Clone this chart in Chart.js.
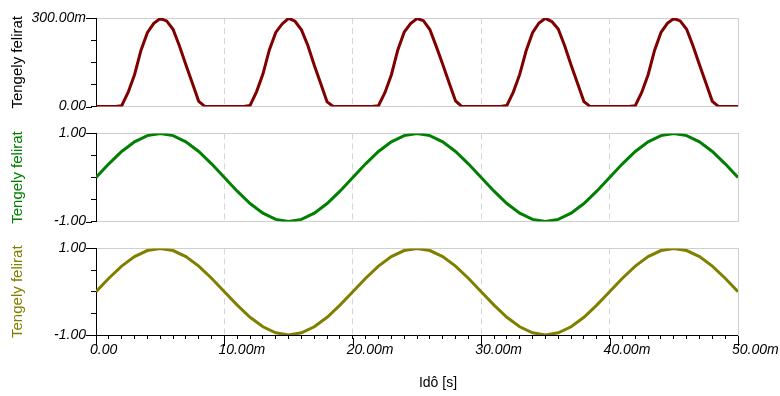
<!DOCTYPE html>
<html>
<head>
<meta charset="utf-8">
<script src="https://cdn.jsdelivr.net/npm/chart.js@4.4.1/dist/chart.umd.min.js"></script>
<style>
  html, body { margin: 0; padding: 0; background: #fff; }
  #wrap { position: relative; width: 780px; height: 396px; }
  canvas { position: absolute; left: 0; }
</style>
</head>
<body>
<div id="wrap">
  <canvas id="c1" width="780" height="120" style="top:0px"></canvas>
  <canvas id="c2" width="780" height="115" style="top:120px"></canvas>
  <canvas id="c3" width="780" height="161" style="top:235px"></canvas>
</div>
<script>
// time in ms (axis shows "10.00m" = 10 ms)
const pulseTime = [
  0, 0.5, 1, 1.5, 2, 2.5, 3, 3.5, 4, 4.5, 5, 5.5, 6, 6.5, 7, 7.5, 8, 8.5, 9, 9.5,
  10, 10.5, 11, 11.5, 12, 12.5, 13, 13.5, 14, 14.5, 15, 15.5, 16, 16.5, 17, 17.5, 18, 18.5, 19, 19.5,
  20, 20.5, 21, 21.5, 22, 22.5, 23, 23.5, 24, 24.5, 25, 25.5, 26, 26.5, 27, 27.5, 28, 28.5, 29, 29.5,
  30, 30.5, 31, 31.5, 32, 32.5, 33, 33.5, 34, 34.5, 35, 35.5, 36, 36.5, 37, 37.5, 38, 38.5, 39, 39.5,
  40, 40.5, 41, 41.5, 42, 42.5, 43, 43.5, 44, 44.5, 45, 45.5, 46, 46.5, 47, 47.5, 48, 48.5, 49, 49.5,
  50
];
// top trace, in m-units (300 = 300.00m)
const pulseVal = [
  0, 0, 0, 0, 3, 48, 108, 190, 250, 282, 298, 290, 262, 205, 142, 80, 18, 0, 0, 0,
  0, 0, 0, 0, 4, 50, 110, 192, 251, 280, 299, 289, 260, 207, 140, 78, 16, 0, 0, 0,
  0, 0, 0, 0, 3, 47, 107, 191, 252, 281, 298, 291, 261, 204, 143, 81, 19, 0, 0, 0,
  0, 0, 0, 0, 4, 49, 109, 189, 250, 283, 299, 288, 263, 206, 141, 79, 17, 0, 0, 0,
  0, 0, 0, 0, 3, 48, 108, 190, 251, 282, 298, 290, 262, 205, 142, 80, 18, 0, 0, 0,
  0
];
const sineTime = [
  0, 1, 2, 3, 4, 5, 6, 7, 8, 9, 10, 11, 12, 13, 14, 15, 16, 17, 18, 19, 20,
  21, 22, 23, 24, 25, 26, 27, 28, 29, 30, 31, 32, 33, 34, 35, 36, 37, 38, 39, 40,
  41, 42, 43, 44, 45, 46, 47, 48, 49, 50
];
const greenVal = [
  0, 0.31, 0.59, 0.81, 0.95, 1.00, 0.95, 0.81, 0.59, 0.31, 0.00,
  -0.31, -0.59, -0.81, -0.95, -1.00, -0.95, -0.81, -0.59, -0.31, 0.00,
  0.31, 0.59, 0.81, 0.95, 1.00, 0.95, 0.81, 0.59, 0.31, 0.00,
  -0.31, -0.59, -0.81, -0.95, -1.00, -0.95, -0.81, -0.59, -0.31, 0.00,
  0.31, 0.59, 0.81, 0.95, 1.00, 0.95, 0.81, 0.59, 0.31, 0.00
];
const oliveVal = [
  0, 0.31, 0.59, 0.81, 0.95, 1.00, 0.95, 0.81, 0.59, 0.31, 0.00,
  -0.31, -0.59, -0.81, -0.95, -1.00, -0.95, -0.81, -0.59, -0.31, 0.00,
  0.31, 0.59, 0.81, 0.95, 1.00, 0.95, 0.81, 0.59, 0.31, 0.00,
  -0.31, -0.59, -0.81, -0.95, -1.00, -0.95, -0.81, -0.59, -0.31, 0.00,
  0.31, 0.59, 0.81, 0.95, 1.00, 0.95, 0.81, 0.59, 0.31, 0.00
];
const xGridAt = [10, 20, 30, 40];
const yTitle = 'Tengely felirat';
const xTitle = 'Idô [s]';

const FONT = "'Liberation Sans', Arial, sans-serif";
const BOX_GRAY = '#cfcfcf';
const DASH_GRAY = '#d6d6d6';

function xLabel(v) {
  if (v % 10 !== 0) return '';
  return v === 0 ? '0.00' : v.toFixed(2) + 'm';
}

// longer tick marks for labelled values, plus the x title
const majorTicks = {
  id: 'majorTicks',
  afterDraw(chart, args, opts) {
    const ctx = chart.ctx;
    const y = chart.scales.y;
    ctx.save();
    ctx.strokeStyle = '#000';
    ctx.lineWidth = 1;
    ctx.beginPath();
    [y.min, y.max].forEach(v => {
      const p = Math.round(y.getPixelForValue(v)) + 0.5;
      ctx.moveTo(y.right - 10, p);
      ctx.lineTo(y.right - 4, p);
    });
    if (opts.bottom) {
      const x = chart.scales.x;
      x.ticks.forEach(t => {
        if (t.value % 10 !== 0) return;
        const p = Math.round(x.getPixelForValue(t.value)) + 0.5;
        ctx.moveTo(p, x.top + 3);
        ctx.lineTo(p, x.top + 11);
      });
    }
    ctx.stroke();
    if (opts.bottom) {
      const x = chart.scales.x;
      ctx.fillStyle = '#000';
      ctx.font = '14px ' + FONT;
      ctx.textAlign = 'center';
      ctx.textBaseline = 'middle';
      ctx.fillText(xTitle, (x.left + x.right) / 2 + 21, x.top + 48);
    }
    ctx.restore();
  }
};

function makePanel(id, times, values, color, yMin, yMax, step, minLabel, maxLabel, titleColor, pad, bottom) {
  return new Chart(document.getElementById(id), {
    type: 'line',
    data: {
      datasets: [{
        data: times.map((t, i) => ({ x: t, y: values[i] })),
        borderColor: color,
        borderWidth: 3,
        pointRadius: 0,
        tension: 0,
        fill: false
      }]
    },
    plugins: [majorTicks],
    options: {
      responsive: false,
      animation: false,
      events: [],
      layout: { padding: { top: pad[0], bottom: pad[1], left: 0, right: 42 } },
      plugins: {
        legend: { display: false },
        tooltip: { enabled: false },
        majorTicks: { bottom: bottom }
      },
      scales: {
        x: {
          type: 'linear',
          position: 'bottom',
          min: 0,
          max: 50,
          afterFit: s => {
            s.height = bottom ? 61 : 0;
            s.paddingLeft = 0;
            s.paddingRight = 0;
          },
          border: { color: bottom ? '#000' : BOX_GRAY, dash: [6, 4] },
          grid: {
            drawOnChartArea: true,
            drawTicks: bottom,
            tickLength: 4,
            tickColor: '#000',
            color: c => (c.tick && xGridAt.includes(c.tick.value)) ? DASH_GRAY : 'rgba(0,0,0,0)'
          },
          ticks: {
            display: bottom,
            stepSize: bottom ? 1 : 10,
            autoSkip: false,
            maxRotation: 0,
            align: 'start',
            labelOffset: -6,
            padding: 3,
            color: '#000',
            font: { family: FONT, size: 14, style: 'italic' },
            callback: xLabel
          }
        },
        y: {
          position: 'left',
          min: yMin,
          max: yMax,
          afterFit: s => { s.width = 96; },
          border: { color: '#000' },
          grid: {
            drawOnChartArea: true,
            tickLength: 5,
            tickColor: '#000',
            color: c => (c.tick && c.tick.value === yMax) ? BOX_GRAY : 'rgba(0,0,0,0)'
          },
          ticks: {
            stepSize: step,
            autoSkip: false,
            padding: 5,
            color: '#000',
            font: { family: FONT, size: 14, style: 'italic' },
            callback: v => v === yMax ? maxLabel : (v === yMin ? minLabel : '')
          },
          title: {
            display: true,
            text: yTitle,
            color: titleColor,
            font: { family: FONT, size: 15 },
            padding: { top: 9, bottom: 0 }
          }
        },
        y2: {
          position: 'right',
          afterFit: s => { s.width = 0; },
          border: { color: BOX_GRAY },
          grid: { display: false },
          ticks: { display: false }
        }
      }
    }
  });
}

makePanel('c1', pulseTime, pulseVal, '#800000', 0, 300, 75, '0.00', '300.00m', '#000000', [18, 12], false);
makePanel('c2', sineTime, greenVal, '#008000', -1, 1, 0.5, '-1.00', '1.00', '#008000', [11, 12], false);
makePanel('c3', sineTime, oliveVal, '#808000', -1, 1, 0.5, '-1.00', '1.00', '#808000', [10, 0], true);
</script>
</body>
</html>
